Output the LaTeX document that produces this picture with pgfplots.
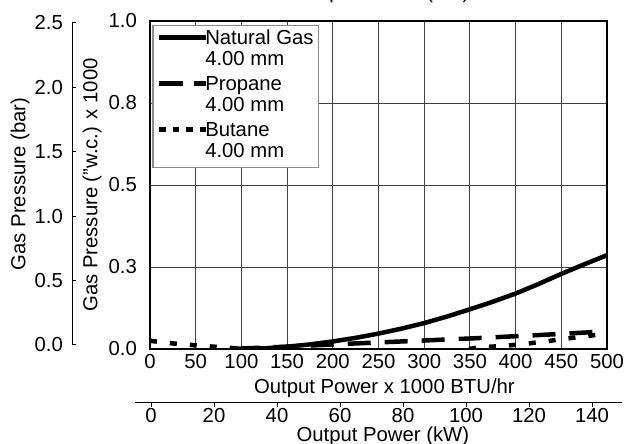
\documentclass[border=0pt]{standalone}
\usepackage{fontspec}
\setmainfont{Liberation Sans}
\usepackage{pgfplots}
\pgfplotsset{compat=1.18}
\begin{document}
\fontsize{20.3bp}{21bp}\selectfont
\begin{tikzpicture}[font=\fontsize{20.3bp}{21bp}\selectfont]
\pgfplotsset{/pgf/number format/assume math mode=true}
% left axis: bar
\begin{axis}[
  at={(72bp,99bp)}, anchor=south west,
  scale only axis, width=1bp, height=322bp,
  xmin=0, xmax=1, ymin=0, ymax=2.5,
  axis y line*=left, axis x line=none,
  axis line style={line width=1bp, black},
  ytick={0,0.5,1,1.5,2,2.5},
  yticklabels={0.0,0.5,1.0,1.5,2.0,2.5},
  yticklabel style={anchor=east, inner sep=0pt, xshift=-9bp},
  tick align=inside, major tick length=4bp,
  tick style={line width=1bp, black},
  ylabel={Gas Pressure (bar)},
  ylabel style={at={(axis description cs:0,0.5)}, anchor=center, yshift=52bp},
]
\end{axis}
% main axis
\begin{axis}[
  at={(150bp,95bp)}, anchor=south west,
  scale only axis, width=457bp, height=328bp,
  xmin=0, xmax=500, ymin=0, ymax=1,
  xtick={0,50,...,500},
  ytick={0,0.25,0.5,0.75,1},
  yticklabels={0.0,0.3,0.5,0.8,1.0},
  major tick length=0pt,
  grid=major,
  major grid style={line width=0.9bp, black!75},
  axis line style={line width=2bp, black},
  xticklabel style={anchor=base, yshift=-20bp},
  yticklabel style={anchor=east, inner sep=0pt, xshift=-13bp},
  xlabel={Output Power x 1000 BTU/hr},
  xlabel style={at={(axis description cs:0.513,0)}, anchor=base, yshift=-45bp},
  ylabel={Gas Pressure ("w.c.) x 1000},
  ylabel style={at={(axis description cs:0,0.5)}, anchor=center, yshift=58bp},
  legend style={at={(axis description cs:0.0044,0.988)}, anchor=north west,
    draw=black!45, line width=1.5bp, fill=white, inner xsep=4bp, inner ysep=2bp,
    cells={anchor=base west}, nodes={inner xsep=1bp, inner ysep=2bp, text depth=}, column sep=-4bp},
  legend image code/.code={\draw[#1, line cap=butt] (0bp,7bp) -- (47bp,7bp);},
]
\addplot[line width=4.5bp, black] coordinates {
(100,0.000) (125,0.002) (150,0.007) (175,0.014) (200,0.023) (225,0.034)
(250,0.047) (275,0.062) (300,0.079) (325,0.099) (350,0.121) (375,0.144)
(400,0.169) (425,0.198) (450,0.229) (475,0.258) (500,0.286)};
\addlegendentry{\begin{tabular}[t]{@{}l@{}}Natural Gas\\4.00 mm\end{tabular}}
\addplot[line width=4.5bp, black, dash pattern=on 23bp off 14bp,
  legend image post style={dash pattern=on 24bp off 11bp}] coordinates {
(95,0.001) (150,0.007) (200,0.014) (250,0.020) (300,0.026) (350,0.032)
(400,0.039) (450,0.046) (500,0.054)};
\addlegendentry{\begin{tabular}[t]{@{}l@{}}Propane\\4.00 mm\end{tabular}}
\addplot[line width=4.5bp, black, dash pattern=on 7bp off 13bp,
  legend image post style={dash pattern=on 6.5bp off 7bp}] coordinates {
(0,0.025) (25,0.017) (50,0.011) (75,0.006) (100,0.001) (150,-0.012)
(200,-0.018) (250,-0.020) (300,-0.015) (340,-0.004) (360,0.005) (385,0.009)
(405,0.014) (430,0.022) (450,0.030) (475,0.038) (500,0.048)};
\addlegendentry{\begin{tabular}[t]{@{}l@{}}Butane\\4.00 mm\end{tabular}}
\end{axis}
% bottom axis: kW
\begin{axis}[
  at={(135bp,41bp)}, anchor=south west,
  scale only axis, width=487bp, height=1bp,
  xmin=-5.08, xmax=149.52, ymin=0, ymax=1,
  axis x line*=bottom, axis y line=none,
  axis line style={line width=1bp, black},
  xtick={0,20,...,140},
  tick align=outside, major tick length=4bp,
  tick style={line width=1bp, black},
  xticklabel style={anchor=base, yshift=-16bp},
  xlabel={Output Power (kW)},
  xlabel style={at={(axis description cs:0.509,0)}, anchor=base, yshift=-39bp},
]
\end{axis}
\node[anchor=base] at (383bp,445bp) {Output Power (kW)};
\pgfresetboundingbox
\useasboundingbox (0,0) rectangle (630bp,444bp);
\end{tikzpicture}
\end{document}
